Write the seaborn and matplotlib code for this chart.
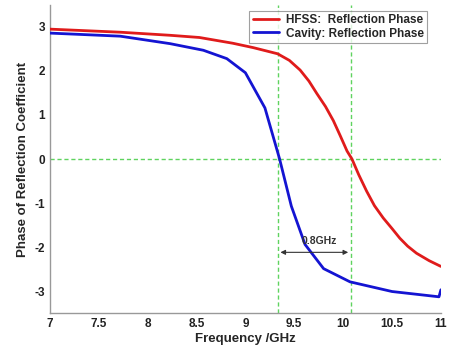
import pandas as pd
import matplotlib
matplotlib.use("Agg")
import matplotlib.pyplot as plt
import seaborn as sns

# HFSS reflection phase
hfss_freq = [7.0, 7.72, 8.23, 8.53, 8.87, 9.08, 9.33, 9.45, 9.56, 9.65, 9.73, 9.82, 9.9, 9.97,
             10.04, 10.09, 10.16, 10.24, 10.32, 10.41, 10.5, 10.58, 10.66, 10.75, 10.88, 11.0]
hfss_phase = [2.95, 2.88, 2.81, 2.76, 2.63, 2.53, 2.39, 2.24, 2.02, 1.77, 1.49, 1.19, 0.87, 0.53,
              0.18, 0.0, -0.36, -0.73, -1.06, -1.34, -1.58, -1.80, -1.98, -2.14, -2.31, -2.44]

# Cavity reflection phase
cav_freq = [7.0, 7.72, 8.23, 8.57, 8.81, 9.0, 9.2, 9.35, 9.47, 9.61, 9.8, 10.07, 10.5, 10.98, 11.0]
cav_phase = [2.86, 2.79, 2.62, 2.47, 2.28, 1.96, 1.16, 0.0, -1.07, -1.94, -2.49, -2.79, -3.01, -3.13, -2.97]

ticks_x = [7, 7.5, 8, 8.5, 9, 9.5, 10, 10.5, 11]
ticks_y = [-3, -2, -1, 0, 1, 2, 3]
f1, f2 = 9.33, 10.08

df = pd.concat([
    pd.DataFrame({"f": hfss_freq, "p": hfss_phase, "s": "HFSS:  Reflection Phase"}),
    pd.DataFrame({"f": cav_freq, "p": cav_phase, "s": "Cavity: Reflection Phase"}),
])

sns.set_style("white")
plt.rcParams["font.family"] = ["Liberation Sans", "DejaVu Sans"]
plt.rcParams["font.weight"] = "bold"
plt.rcParams["axes.unicode_minus"] = False

fig = plt.figure(figsize=(4.49, 3.51), dpi=100)
ax = fig.add_axes([0.111, 0.108, 0.871, 0.878])

# guide lines
guide = dict(color="#5fd35f", ls=(0, (3, 2)), lw=1.0, zorder=1)
ax.axhline(0, **guide)
ax.axvline(f1, **guide)
ax.axvline(f2, **guide)

sns.lineplot(data=df, x="f", y="p", hue="s", sort=False, ax=ax,
             palette=["#e01b1b", "#1414d2"], lw=2, zorder=3)

ax.annotate("", xy=(f1, -2.12), xytext=(f2, -2.12),
            arrowprops=dict(arrowstyle="<|-|>", color="#333333", lw=0.8, mutation_scale=7))
ax.text((f1 + f2) / 2 + 0.05, -1.86, "0.8GHz", ha="center", va="center", fontsize=7.5,
        fontweight="bold", color="#333333")

ax.set_xlim(7, 11)
ax.set_ylim(-3.5, 3.5)
ax.set_xticks(ticks_x)
ax.set_xticklabels([f"{t:g}" for t in ticks_x])
ax.set_yticks(ticks_y)
ax.set_yticklabels([str(t) for t in ticks_y])
ax.tick_params(direction="in", length=3, labelsize=8.5, colors="#222222", width=0.6)
for lbl in ax.get_xticklabels() + ax.get_yticklabels():
    lbl.set_fontweight("bold")
ax.set_xlabel("Frequency /GHz", fontsize=9.5, fontweight="bold", labelpad=2)
ax.set_ylabel("Phase of Reflection Coefficient", fontsize=9.5, fontweight="bold", labelpad=4)

for s in ["top", "right"]:
    ax.spines[s].set_visible(False)
for s in ["left", "bottom"]:
    ax.spines[s].set_color("#999999")
    ax.spines[s].set_linewidth(1.0)

leg = ax.legend(loc="upper right", bbox_to_anchor=(0.98, 1.0), fontsize=8.5,
                frameon=True, fancybox=False, handlelength=2.2, borderpad=0.3,
                labelspacing=0.1, handletextpad=0.6)
leg.get_frame().set_edgecolor("#888888")
leg.get_frame().set_linewidth(0.8)
for t in leg.get_texts():
    t.set_fontweight("bold")
for h in leg.get_lines():
    h.set_linewidth(2)

fig.savefig("out.png", dpi=100)
